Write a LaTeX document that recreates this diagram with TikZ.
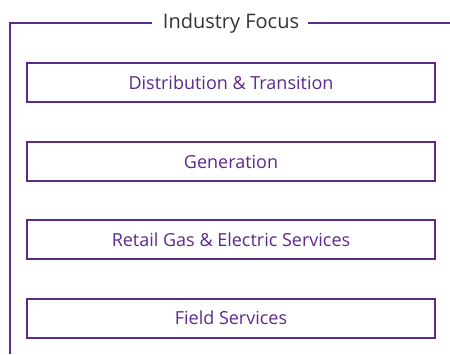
\documentclass[tikz,border=0pt]{standalone}
\usepackage{fontspec}
\setmainfont{Open Sans}
\definecolor{fpurple}{HTML}{5B2A8E}
\definecolor{ftitle}{HTML}{333333}
\tikzset{
  frame/.style={draw=fpurple, line width=2pt},
  itembox/.style={draw=fpurple, line width=2pt, minimum width=408pt, minimum height=39pt, inner sep=0pt, text=fpurple, font=\fontsize{18}{20}\selectfont},
  titletext/.style={text=ftitle, font=\fontsize{20}{22}\selectfont, inner sep=0pt}
}
\begin{document}
\begin{tikzpicture}[x=1pt,y=1pt]
\useasboundingbox (0,0) rectangle (450,354);
\node[titletext] (title) at (231,331) {Industry Focus};
\coordinate (tl) at (10,331);
\coordinate (bl) at (10,0);
\coordinate (tr) at (450,331);
\coordinate (gl) at (152,331);
\coordinate (gr) at (308,331);
\draw[frame] (bl) -- (tl) -- (gl);
\draw[frame] (gr) -- (tr);
\node[itembox] (b1) at (231,271.5) {Distribution \& Transition};
\node[itembox] (b2) at (231,192.5) {Generation};
\node[itembox] (b3) at (231,114.5) {Retail Gas \& Electric Services};
\node[itembox] (b4) at (231,36) {Field Services};
\end{tikzpicture}
\end{document}
